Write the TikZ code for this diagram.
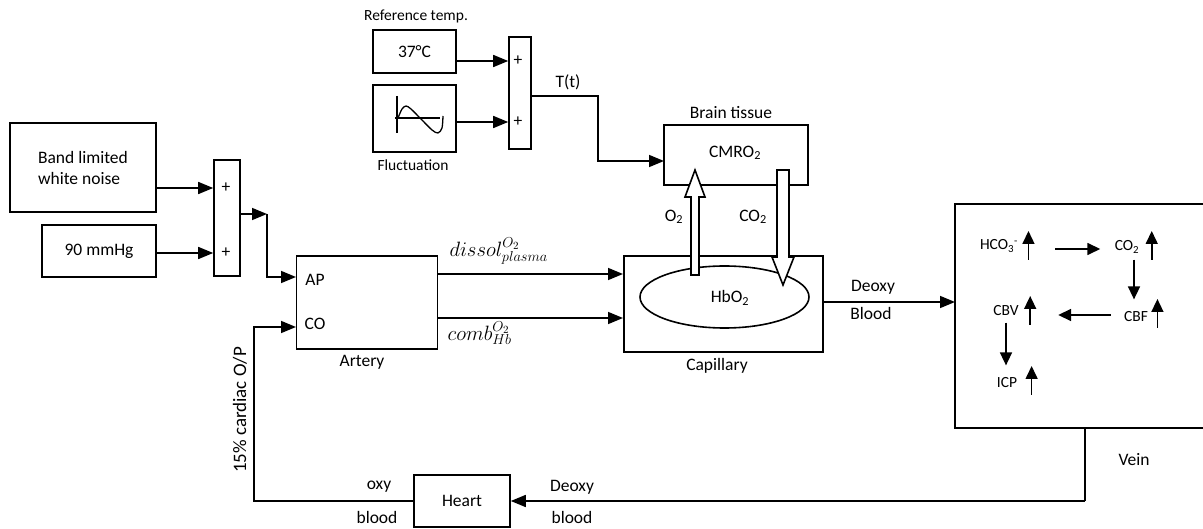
\documentclass[tikz,border=0pt]{standalone}
\usepackage{fontspec}
\setmainfont{Carlito}
\usetikzlibrary{arrows.meta,shapes.geometric,calc}
\begin{document}
\begin{tikzpicture}[x=1pt,y=-1pt,
  every node/.style={font=\fontsize{17.5}{21}\selectfont},
  sm/.style={font=\fontsize{15.5}{18}\selectfont},
  blk/.style={draw,line width=1.6pt,inner sep=0pt,fill=white},
  arr/.style={line width=1.6pt,-{Triangle[length=15pt,width=12pt]}},
  arr2/.style={line width=1.6pt,-{Triangle[length=13pt,width=12pt]}},
  ln/.style={line width=1.6pt},
  hollow/.style={line width=1.6pt,fill=white,line join=miter}]
\useasboundingbox (0,0) rectangle (1203,529);

% left inputs
\node[blk,minimum width=146pt,minimum height=89pt,align=left] (band) at (83,167.5) {Band limited\\white noise};
\node[blk,minimum width=114pt,minimum height=52pt] (nin) at (99,251) {90 mmHg};
\node[blk,minimum width=26pt,minimum height=116pt] (sum1) at (227,218) {};
\node (p1) at (226,188) {+};
\node (p2) at (226,253) {+};
\draw[arr] (band.east |- p1) -- (sum1.west |- p1);
\draw[arr] (nin.east |- p2) -- (sum1.west |- p2);

% temperature
\node[sm] (reflab) at (416,16) {Reference temp.};
\node[blk,minimum width=83pt,minimum height=43pt] (ref) at (414.5,51.5) {37°C};
\node[blk,minimum width=83pt,minimum height=67pt] (fluct) at (414.5,118.5) {};
\node[sm] (flab) at (413,165) {Fluctuation};
\draw[line width=1.3pt] (397,96) -- (397,133);
\draw[line width=1.3pt] (395,118) -- (440,118);
\draw[line width=1.3pt] plot[smooth] coordinates {(398,118) (402,109) (406,106) (411,109) (421,119) (432,130) (438,133) (442,128) (443,116)};
\node[blk,minimum width=22pt,minimum height=112pt] (sum2) at (520,93) {};
\node (q1) at (518,61) {+};
\node (q2) at (518,122) {+};
\draw[arr] (ref.east |- q1) -- (sum2.west |- q1);
\draw[arr] (fluct.east |- q2) -- (sum2.west |- q2);
\node (tt) at (568,82) {T(t)};

% brain and capillary
\node[blk,minimum width=144pt,minimum height=60pt] (brain) at (736,155) {};
\node (brainlab) at (731,113) {Brain tissue};
\node (cmro) at (735,153) {CMRO\textsubscript{2}};
\coordinate (tcorner) at (598,96);
\coordinate (bin) at (664,161);
\draw[arr] (sum2.east |- tcorner) -- (tcorner) |- (bin);

\node[blk,minimum width=199pt,minimum height=96pt] (cap) at (723.5,304) {};
\node (caplab) at (717,366) {Capillary};
\node[draw,ellipse,line width=1.6pt,minimum width=169pt,minimum height=62pt,inner sep=0pt] (ell) at (724.5,297) {};
\node (hbo) at (730,298) {HbO\textsubscript{2}};

\draw[hollow] (691,275) -- (691,197) -- (685,197) -- (695,170) -- (705,197) -- (699,197) -- (699,275) -- cycle;
\draw[hollow] (777,170) -- (777,257) -- (772,257) -- (783,285) -- (794,257) -- (789,257) -- (789,170) -- cycle;
\node (o2) at (674,217) {O\textsubscript{2}};
\node (co2) at (753,217) {CO\textsubscript{2}};

% artery
\node[blk,minimum width=141pt,minimum height=93pt] (art) at (367,302.5) {};
\node (ap) at (315,280) {AP};
\node (co) at (315,324) {CO};
\node (artlab) at (362,362) {Artery};
\coordinate (c1) at (267,214);
\coordinate (apin) at (296,277);
\coordinate (coin) at (296,327);
\draw[arr] (sum1.east |- c1) -- (c1);
\draw[ln,-{Triangle[length=15pt,width=12pt]}] (c1) |- (apin);

\coordinate (d1) at (623,274);
\coordinate (d2) at (623,318);
\draw[arr] (art.east |- d1) -- (d1);
\draw[arr] (art.east |- d2) -- (d2);
\node[anchor=west,font=\fontsize{22}{26}\selectfont] (dis) at (446,251) {$dissol^{O_2}_{plasma}$};
\node[anchor=west,font=\fontsize{22}{26}\selectfont] (comb) at (444,333) {$comb^{O_2}_{Hb}$};

% right box
\draw[ln] (1203,204) -- (955,204) -- (955,428) -- (1203,428);
\coordinate (rin) at (955,302);
\draw[arr] (cap.east |- rin) -- (rin);
\node (deoxy1) at (873,287) {Deoxy};
\node (blood1) at (871,313) {Blood};

\node[sm] (hco) at (999,246) {HCO\textsubscript{3}\textsuperscript{-}};
\node[sm] (co2r) at (1127,247) {CO\textsubscript{2}};
\node[sm] (cbf) at (1136,317) {CBF};
\node[sm] (cbv) at (1006,311) {CBV};
\node[sm] (icp) at (1007,383) {ICP};
\draw[arr2] ($(hco.east)+(7,14)$) -- ++(0,-29);
\draw[arr2] ($(co2r.east)+(9,13)$) -- ++(0,-29);
\draw[arr2] ($(cbf.east)+(6,11)$) -- ++(0,-29);
\draw[arr2] ($(cbv.east)+(8,14)$) -- ++(0,-29);
\draw[arr2] ($(icp.east)+(11,12)$) -- ++(0,-29);
\draw[arr2] ($(hco.east)+(34,3)$) -- ($(co2r.west)+(-11,2)$);
\draw[arr2] ($(co2r.south)+(7,3)$) -- ($(cbf.north)+(-2,-9)$);
\draw[arr2] ($(cbf.west)+(-10,-2)$) -- ($(cbv.east)+(36,4)$);
\draw[arr2] ($(cbv.south)+(0,3)$) -- ($(icp.north)+(-1,-9)$);

% vein and heart
\node[blk,minimum width=96pt,minimum height=52pt] (heart) at (462,501) {Heart};
\node (vein) at (1134,460) {Vein};
\coordinate (vt) at (1085,428);
\coordinate (vb) at (1085,501);
\draw[ln] (vt) -- (vb);
\draw[arr] (vb) -- (heart.east);
\node (deoxy2) at (572,487) {Deoxy};
\node (blood2) at (572,517) {blood};
\node (oxy) at (379,487) {oxy};
\node (blood3) at (377,517) {blood};
\coordinate (hc) at (254,501);
\draw[ln,-{Triangle[length=15pt,width=12pt]}] (heart.west) -- (hc) |- (coin);
\node[rotate=90,font=\fontsize{19}{22}\selectfont] (pct) at (240,410) {15\% cardiac O/P};
\end{tikzpicture}
\end{document}
